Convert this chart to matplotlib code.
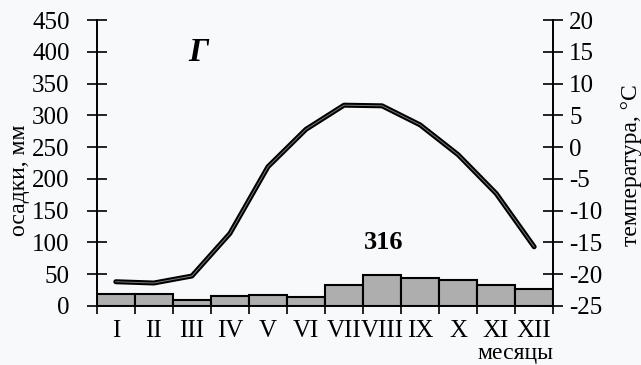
import numpy as np
import matplotlib
matplotlib.use("Agg")
import matplotlib.pyplot as plt

plt.rcParams['font.family'] = ['Liberation Serif', 'DejaVu Serif']
plt.rcParams['axes.unicode_minus'] = False

months = ["I", "II", "III", "IV", "V", "VI", "VII", "VIII", "IX", "X", "XI", "XII"]
precip = [18, 18, 10, 15, 17, 14, 33, 48, 44, 40, 33, 26]   # mm, total 316
temp = [-21.2, -21.4, -20.3, -13.6, -3.1, 2.8, 6.6, 6.5, 3.5, -1.2, -7.3, -15.7]
total_precip = 316

bg = '#f8f9fb'
fig = plt.figure(figsize=(6.41, 3.65), dpi=100, facecolor=bg)
ax = fig.add_axes([0.151, 0.162, 0.712, 0.783], facecolor=bg)

x = np.arange(len(months))
ax.bar(x, precip, width=1.0, color='#aeaeae', edgecolor='black', linewidth=1.5, zorder=2)
ax.set_xlim(-0.5, len(months) - 0.5)
ax.set_ylim(0, 450)
ax.set_yticks(np.arange(0, 451, 50))
ax.set_xticks(x)
ax.set_xticklabels(months)
ax.set_xticks(np.arange(-0.5, len(months)), minor=True)
ax.tick_params(axis='x', which='major', length=0, pad=10, labelsize=18)
ax.tick_params(axis='x', which='minor', length=6, width=1.2, direction='out')
ax.tick_params(axis='y', length=15, width=1.2, direction='inout', labelsize=18, pad=12)
ax.spines['top'].set_visible(False)
ax.spines['right'].set_visible(False)
for s in ('left', 'bottom'):
    ax.spines[s].set_linewidth(1.4)

ax2 = ax.twinx()
ax2.set_ylim(-25, 20)
ax2.set_yticks(np.arange(-25, 21, 5))
ax2.plot(x, temp, color='black', linewidth=3.6, solid_capstyle='round', zorder=3)
ax2.plot(x, temp, color='#7a7a7a', linewidth=0.7, zorder=4)
ax2.tick_params(axis='y', length=15, width=1.2, direction='inout', labelsize=18, pad=4)
for s in ('top', 'left', 'bottom'):
    ax2.spines[s].set_visible(False)
ax2.spines['right'].set_linewidth(1.4)

fig.text(20 / 641, 1 - 180 / 365, "осадки, мм", fontsize=17, rotation=90, ha='center', va='center')
fig.text(631 / 641, 1 - 165 / 365, "температура, °С", fontsize=17, rotation=90, ha='center', va='center')
ax.text(2.16, 399, "Г", fontsize=24, fontweight='bold', fontstyle='italic', ha='center', va='center')
ax.text(7.03, 100, str(total_precip), fontsize=19, fontweight='bold', ha='center', va='center')
fig.text(515 / 641, 1 - 354 / 365, "месяцы", fontsize=17, ha='center', va='center')

fig.savefig("out.png", dpi=100, facecolor=bg)
